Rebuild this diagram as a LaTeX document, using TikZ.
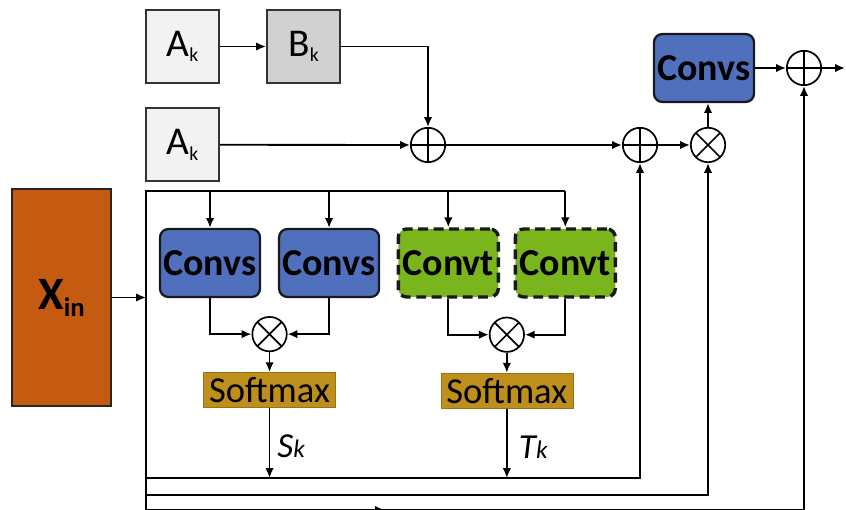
\documentclass[tikz,border=0pt]{standalone}
\usepackage{fontspec}
\setmainfont{Carlito}
\usetikzlibrary{positioning, arrows.meta, calc}

\definecolor{convblue}{RGB}{80,112,190}
\definecolor{convgreen}{RGB}{122,181,30}
\definecolor{xinorange}{RGB}{197,90,17}
\definecolor{softgold}{RGB}{191,143,28}

\begin{document}
\begin{tikzpicture}[
  x=0.025cm, y=-0.025cm,
  >={Latex[length=7pt,width=6pt]},
  every node/.style={align=center, inner sep=0pt},
  link/.style={->, line width=1.3pt},
  akbox/.style={rectangle, draw=black!80, line width=1.3pt, fill=black!5, minimum width=1.83cm, minimum height=1.83cm, font=\fontsize{28}{30}\selectfont},
  bkbox/.style={akbox, fill=black!18},
  xinbox/.style={rectangle, draw=black!85, line width=1.6pt, fill=xinorange, minimum width=2.48cm, minimum height=5.43cm, font=\bfseries\fontsize{33}{36}\selectfont},
  convs/.style={rectangle, rounded corners=6pt, draw=black!90, line width=1.6pt, fill=convblue, minimum width=2.5cm, minimum height=1.7cm, font=\bfseries\fontsize{27}{28}\selectfont},
  convt/.style={convs, fill=convgreen, dash pattern=on 7pt off 4pt, line width=2.4pt},
  softbox/.style={rectangle, draw=softgold!80!black, fill=softgold, minimum width=3.3cm, minimum height=0.88cm, font=\fontsize{26}{28}\selectfont},
  opcircle/.style={circle, draw, line width=1.2pt, minimum size=0.86cm},
  plus/.style={opcircle, path picture={\draw[line width=1.2pt] (path picture bounding box.north) -- (path picture bounding box.south) (path picture bounding box.west) -- (path picture bounding box.east);}},
  times/.style={opcircle, path picture={\draw[line width=1.2pt] (path picture bounding box.north west) -- (path picture bounding box.south east) (path picture bounding box.north east) -- (path picture bounding box.south west);}}
]
\useasboundingbox (0,0) rectangle (846,510);

% Top branch
\node[akbox] (ak1) at (182.5,46.5) {A\raisebox{-4pt}{\fontsize{14}{14}\selectfont k}};
\node[bkbox, right=1.15cm of ak1] (bk) {B\raisebox{-4pt}{\fontsize{14}{14}\selectfont k}};
\node[akbox, below=0.58cm of ak1] (ak2) {A\raisebox{-4pt}{\fontsize{14}{14}\selectfont k}};
\node[plus] (add1) at (428,145) {};
\node[plus] (add2) at (640,145) {};
\node[times] (mul3) at (708,145) {};
\node[convs] (convout) at (704,68) {Convs};
\node[plus] (add3) at (804,68) {};
\coordinate (out) at (845,68);

% Input
\node[xinbox] (xin) at (61.5,297.5) {X\raisebox{-5pt}{\fontsize{19}{19}\selectfont in}};

% Attention branch
\node[convs] (cs1) at (210,263) {Convs};
\node[convs, right=0.42cm of cs1] (cs2) {Convs};
\node[convt, right=0.41cm of cs2] (ct1) {Convt};
\node[convt, right=0.34cm of ct1] (ct2) {Convt};
\node[times] (mul1) at ($(cs1.south)!0.5!(cs2.south)+(0,36)$) {};
\node[times] (mul2) at ($(ct1.south)!0.5!(ct2.south)+(0,36)$) {};
\node[softbox, below=0.5cm of mul1] (sm1) {Softmax};
\node[softbox, below=0.5cm of mul2] (sm2) {Softmax};

% Bus coordinates
\coordinate (bus top) at (146,191);
\coordinate (bus bot) at (146,512);
\coordinate (s line) at (146,478);
\coordinate (t line) at (146,495);
\coordinate (r line) at (146,510);

% Bus and drops
\draw[line width=1.3pt] (bus bot) -- (bus top) -- (ct2 |- bus top);
\draw[link] (xin) -- (xin -| bus top);
\foreach \n in {cs1,cs2,ct1,ct2}
  \draw[link] (\n |- bus top) -- (\n);

% Attention arrows
\draw[link] (cs1.south) |- (mul1);
\draw[link] (cs2.south) |- (mul1);
\draw[link] (ct1.south) |- (mul2);
\draw[link] (ct2.south) |- (mul2);
\draw[link] (mul1) -- (sm1);
\draw[link] (mul2) -- (sm2);
\draw[link] (sm1) -- (sm1 |- s line) node[pos=0.55, right=5pt] {\fontsize{25}{25}\selectfont\itshape S{\fontsize{18}{18}\selectfont k}};
\draw[link] (sm2) -- (sm2 |- s line) node[pos=0.55, right=8pt] {\fontsize{25}{25}\selectfont\itshape T{\fontsize{18}{18}\selectfont k}};

% Return lines
\draw[link] (s line) -| (add2);
\draw[link] (t line) -| (mul3);
\draw[link] (r line) -| (add3);
\draw[link] (r line) -- ($(r line)+(239,0)$);

% Top arrows
\draw[link] (ak1) -- (bk);
\draw[link] (bk) -| (add1);
\draw[link] (ak2) -- (add1);
\draw[link] (add1) -- (add2);
\draw[link] (add2) -- (mul3);
\draw[link] (mul3.north) -- (mul3 |- convout.south);
\draw[link] (convout) -- (add3);
\draw[link] (add3) -- (out);

\end{tikzpicture}
\end{document}
